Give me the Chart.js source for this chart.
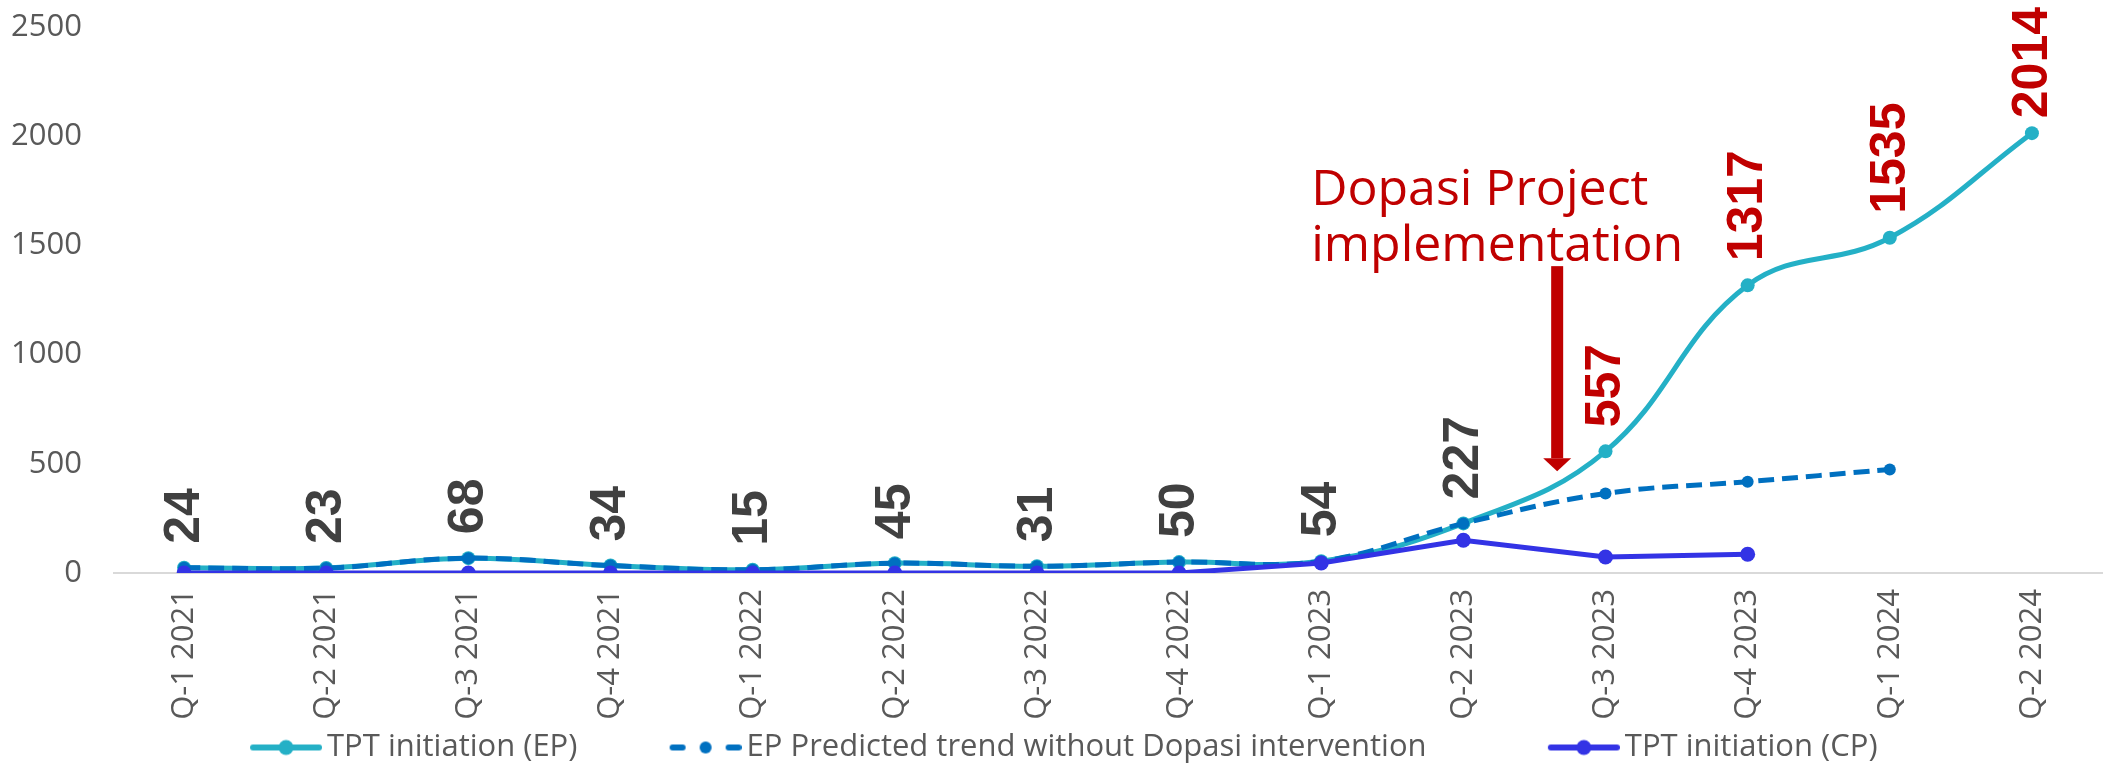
<!DOCTYPE html>
<html>
<head>
<meta charset="utf-8">
<script src="https://cdn.jsdelivr.net/npm/chart.js@4"></script>
<style>
  html, body { margin: 0; padding: 0; background: #fff; }
  #wrap { width: 2103px; height: 765px; }
</style>
</head>
<body>
<div id="wrap"><canvas id="chart" width="2103" height="765"></canvas></div>
<script>
// data
const quarters = ['Q-1 2021','Q-2 2021','Q-3 2021','Q-4 2021','Q-1 2022','Q-2 2022','Q-3 2022',
                  'Q-4 2022','Q-1 2023','Q-2 2023','Q-3 2023','Q-4 2023','Q-1 2024','Q-2 2024'];
const epValues   = [24, 23, 68, 34, 15, 45, 31, 50, 54, 227, 557, 1317, 1535, 2014];
const predValues = [24, 23, 68, 34, 15, 45, 31, 50, 54, 227, 364, 418, 474];
const cpValues   = [0, 0, 0, 0, 0, 0, 0, 0, 46, 150, 73, 86];
const seriesNames = ['TPT initiation (EP)', 'EP Predicted trend without Dopasi intervention', 'TPT initiation (CP)'];
const yTicks = [0, 500, 1000, 1500, 2000, 2500];

const tealCol = '#24b0c6';
const predCol = '#0070c0';
const cpCol = '#3333e5';
const redCol = '#c00000';
const textCol = '#595959';
const clear = 'rgba(0,0,0,0)';
const baseFont = '"Open Sans", "DejaVu Sans", sans-serif';

// legend swatch: line with a dot, drawn at the right end of a wider canvas
function swatch(color, dashed) {
  const c = document.createElement('canvas');
  c.width = 83; c.height = 20;
  const g = c.getContext('2d');
  g.strokeStyle = color; g.fillStyle = color;
  g.lineWidth = 6; g.lineCap = 'round';
  if (dashed) {
    g.beginPath(); g.moveTo(14, 10); g.lineTo(24, 10); g.stroke();
    g.beginPath(); g.moveTo(70, 10); g.lineTo(80, 10); g.stroke();
    g.beginPath(); g.arc(47, 10, 6, 0, Math.PI * 2); g.fill();
    g.fillRect(44, 5, 6, 10);
  } else {
    g.beginPath(); g.moveTo(14, 10); g.lineTo(80, 10); g.stroke();
    g.beginPath(); g.arc(47, 10, 7.5, 0, Math.PI * 2); g.fill();
  }
  return c;
}
const swatches = [swatch(tealCol, false), swatch(predCol, true), swatch(cpCol, false)];
// where each legend marker starts in the reference (last = right edge), used for spacing
const legendStarts = [246, 666, 1545, 2103];

const valueLabels = {
  id: 'valueLabels',
  afterDatasetsDraw(chart) {
    const ctx = chart.ctx;
    const meta = chart.getDatasetMeta(0);
    ctx.save();
    ctx.font = 'bold 50px "Liberation Sans", Arial, sans-serif';
    ctx.textAlign = 'left';
    ctx.textBaseline = 'middle';
    meta.data.forEach((pt, i) => {
      const txt = String(epValues[i]);
      const w = ctx.measureText(txt).width;
      // keep the top label inside the canvas, like the original does
      const y0 = Math.max(pt.y - 24, w + 7);
      ctx.save();
      ctx.translate(pt.x + 1, y0);
      ctx.rotate(-Math.PI / 2);
      ctx.fillStyle = i >= 10 ? redCol : '#404040';
      ctx.fillText(txt, 0, 0);
      ctx.restore();
    });
    ctx.restore();
  }
};

const projectNote = {
  id: 'projectNote',
  afterDatasetsDraw(chart) {
    const ctx = chart.ctx;
    const xs = chart.scales.x, ys = chart.scales.y;
    const step = xs.getPixelForValue(10) - xs.getPixelForValue(9);
    const ax = xs.getPixelForValue(9) + 0.66 * step;
    const tip = ys.getPixelForValue(466);
    const top = ys.getPixelForValue(1405);
    ctx.save();
    ctx.fillStyle = redCol;
    ctx.fillRect(ax - 6, top, 12, tip - 13 - top);
    ctx.beginPath();
    ctx.moveTo(ax - 14, tip - 13);
    ctx.lineTo(ax + 14, tip - 13);
    ctx.lineTo(ax, tip);
    ctx.closePath();
    ctx.fill();
    ctx.font = '50px ' + baseFont;
    ctx.textAlign = 'left';
    ctx.textBaseline = 'alphabetic';
    ctx.fillText('Dopasi Project', ax - 246, ys.getPixelForValue(1685));
    ctx.fillText('implementation', ax - 246, ys.getPixelForValue(1428));
    ctx.restore();
  }
};

const ctx = document.getElementById('chart').getContext('2d');
new Chart(ctx, {
  type: 'line',
  data: {
    labels: quarters,
    datasets: [
      {
        label: seriesNames[0], data: epValues, order: 3,
        borderColor: tealCol, backgroundColor: tealCol, borderWidth: 5,
        pointRadius: 7, pointBackgroundColor: tealCol, pointBorderWidth: 0,
        tension: 0.4, fill: false
      },
      {
        label: seriesNames[1], data: predValues, order: 2,
        borderColor: predCol, backgroundColor: predCol, borderWidth: 5, borderDash: [16, 8],
        pointRadius: 6, pointBackgroundColor: predCol, pointBorderWidth: 0,
        tension: 0.4, fill: false
      },
      {
        label: seriesNames[2], data: cpValues, order: 1,
        borderColor: cpCol, backgroundColor: cpCol, borderWidth: 5,
        pointRadius: 7.5, pointBackgroundColor: cpCol, pointBorderWidth: 0,
        tension: 0, fill: false
      }
    ]
  },
  options: {
    responsive: false,
    animation: false,
    devicePixelRatio: 1,
    layout: { autoPadding: false, padding: { top: 27, left: 0, right: 0, bottom: -8 } },
    plugins: {
      tooltip: { enabled: false },
      legend: {
        position: 'bottom',
        align: 'end',
        labels: {
          font: { family: baseFont, size: 31 },
          color: textCol,
          usePointStyle: true,
          pointStyleWidth: 62,
          padding: 0,
          generateLabels(chart) {
            const g = chart.ctx;
            g.save();
            g.font = '31px ' + baseFont;
            const items = chart.data.datasets.map((ds, i) => {
              let text = ds.label;
              const want = legendStarts[i + 1] - legendStarts[i] - 62 - 15.5;
              while (g.measureText(text + ' ').width <= want) text += ' ';
              while (g.measureText(text + '\u200A').width <= want) text += '\u200A';
              return {
                text: text, fillStyle: ds.borderColor, strokeStyle: ds.borderColor,
                lineWidth: 0, hidden: false, datasetIndex: i,
                pointStyle: swatches[i], fontColor: textCol
              };
            });
            g.restore();
            return items;
          }
        }
      }
    },
    scales: {
      x: {
        offset: true,
        grid: { display: true, drawOnChartArea: false, color: clear, tickColor: clear, tickLength: 16 },
        border: { display: false },
        ticks: {
          autoSkip: false, minRotation: 90, maxRotation: 90, padding: 0,
          color: textCol, font: { family: baseFont, size: 31 }
        },
        afterFit(scale) {
          scale.height = 159;
          scale.paddingLeft = 0;
          scale.paddingRight = 0;
        }
      },
      y: {
        min: 0, max: 2500,
        afterBuildTicks(scale) { scale.ticks = yTicks.map(v => ({ value: v })); },
        grid: {
          drawTicks: true, tickLength: 31, tickColor: clear, lineWidth: 2,
          color: c => (c.tick && c.tick.value === 0 ? '#d9d9d9' : clear)
        },
        border: { display: false },
        ticks: {
          padding: 0, color: textCol, font: { family: baseFont, size: 31 },
          callback: v => String(v)
        },
        afterFit(scale) { scale.width = 113; }
      }
    }
  },
  plugins: [valueLabels, projectNote]
});
</script>
</body>
</html>
